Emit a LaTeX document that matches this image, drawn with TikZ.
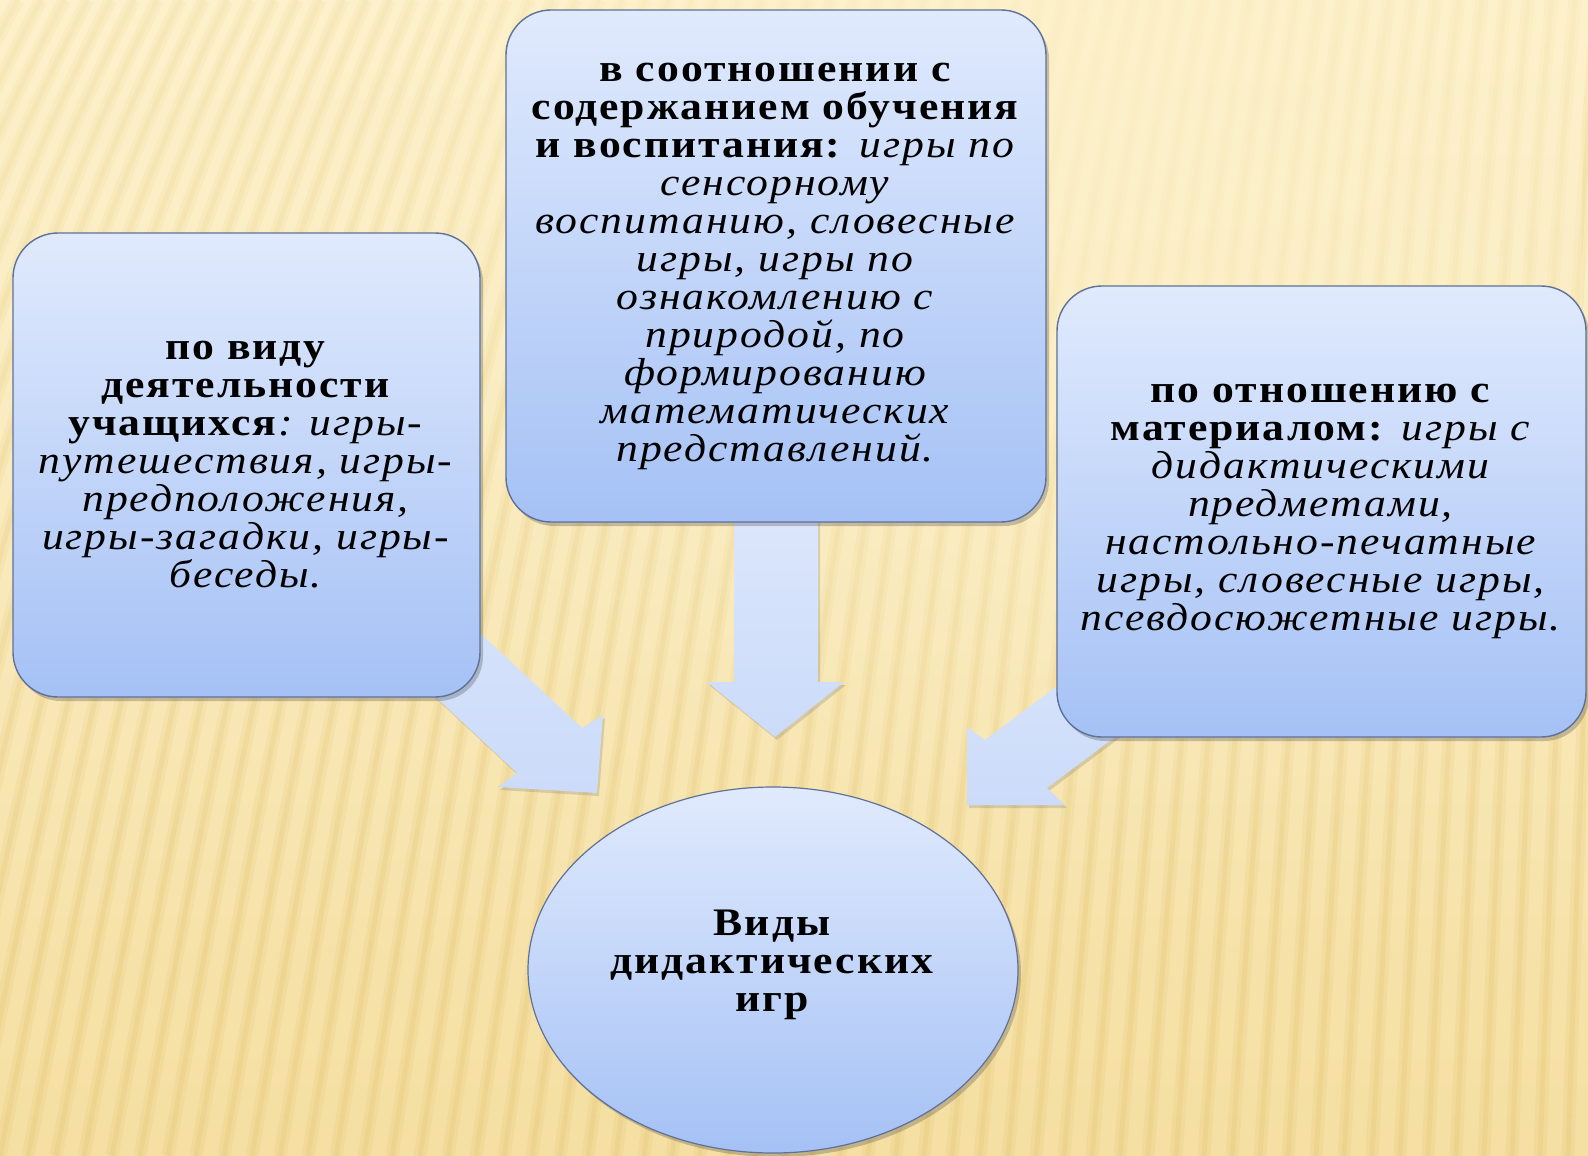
\documentclass[tikz,border=0pt]{standalone}
\usepackage{fontspec}
\setmainfont{Liberation Serif}[FakeStretch=1.12,LetterSpace=5]
\usetikzlibrary{shapes.geometric,shadows,fadings}
\definecolor{bgtop}{HTML}{FDF1CB}
\definecolor{bgbot}{HTML}{F5DFA2}
\definecolor{stripec}{HTML}{E6C977}
\definecolor{boxtop}{HTML}{E0EAFD}
\definecolor{boxbot}{HTML}{A5C1F5}
\definecolor{boxline}{HTML}{5F7199}
\definecolor{arrtop}{HTML}{DDE7FC}
\definecolor{arrbot}{HTML}{CBDBF9}
\tikzfading[name=fadecirc, inner color=transparent!10, outer color=transparent!100]
\tikzfading[name=fadev, top color=transparent!45, bottom color=transparent!100]
\newcommand\boxfont{\fontsize{39pt}{38pt}\selectfont}
\begin{document}
\begin{tikzpicture}[x=1pt,y=-1pt,
  stripewide/.style={draw=stripec, line width=13pt, opacity=0.22},
  stripecore/.style={draw=stripec, line width=5pt, opacity=0.3},
  box/.style={rectangle, rounded corners=45pt, draw=boxline, line width=1.4pt,
    top color=boxtop, bottom color=boxbot, align=center, inner sep=0pt,
    font=\boxfont, text=black,
    drop shadow={shadow xshift=3pt, shadow yshift=-4pt, opacity=0.3, fill=black!70}},
  oval/.style={ellipse, draw=boxline, line width=1.2pt,
    top color=boxtop, bottom color=boxbot, align=center, inner sep=0pt,
    font=\boxfont, text=black,
    drop shadow={shadow xshift=3pt, shadow yshift=-4pt, opacity=0.3, fill=black!70}},
  blockarrow/.style={top color=arrtop, bottom color=arrbot, draw=none,
    drop shadow={shadow xshift=2pt, shadow yshift=-3pt, opacity=0.22, fill=black!60}}
]
\useasboundingbox (0,0) rectangle (1588,1156);
% background
\fill[top color=bgtop, bottom color=bgbot] (0,0) rectangle (1588,1156);
\begin{scope}
\clip (0,0) rectangle (1588,1156);
\foreach \b in {-560,-532,...,1720} {
  \pgfmathsetmacro{\L}{320-0.17*\b}
  \draw[stripewide] (\b,1156) .. controls ({\b+0.25*\L},750) and ({\b+0.5*\L},350) .. ({\b+\L},0);
  \draw[stripecore] (\b,1156) .. controls ({\b+0.25*\L},750) and ({\b+0.5*\L},350) .. ({\b+\L},0);
}
\fill[bgtop, path fading=fadev] (0,0) rectangle (1588,950);
\fill[bgtop, path fading=fadecirc, fill opacity=0.9] (1100,40) circle (820pt);
\end{scope}

% block arrows (behind the boxes)
\path[blockarrow] (734,500) -- (818,500) -- (818,682) -- (844,682) -- (775,737)
  -- (707,682) -- (734,682) -- cycle;
\path[blockarrow] (332,495) -- (582,728) -- (603,715) -- (597,793) -- (498,787)
  -- (517,773) -- (267,540) -- cycle;
\path[blockarrow] (1185,590) -- (985,740) -- (967,727) -- (967,805) -- (1065,805)
  -- (1047,788) -- (1247,638) -- cycle;

% boxes
\node[box, minimum width=467pt, minimum height=464pt] (left) at (246.5,465)
 {\textbf{по виду}\\
  \textbf{деятельности}\\
  \textbf{учащихся}\textit{: игры-}\\
  \textit{путешествия, игры-}\\
  \textit{предположения,}\\
  \textit{игры-загадки, игры-}\\
  \textit{беседы.}};
\node[box, minimum width=540pt, minimum height=512pt] (center) at (776,266)
 {\textbf{в соотношении с}\\
  \textbf{содержанием обучения}\\
  \textbf{и воспитания:} \textit{игры по}\\
  \textit{сенсорному}\\
  \textit{воспитанию, словесные}\\
  \textit{игры, игры по}\\
  \textit{ознакомлению с}\\
  \textit{природой, по}\\
  \textit{формированию}\\
  \textit{математических}\\
  \textit{представлений.}};
\node[box, minimum width=529pt, minimum height=451pt] (right) at (1321.5,511.5)
 {\textbf{по отношению с}\\
  \textbf{материалом:} \textit{игры с}\\
  \textit{дидактическими}\\
  \textit{предметами,}\\
  \textit{настольно-печатные}\\
  \textit{игры, словесные игры,}\\
  \textit{псевдосюжетные игры.}};
\node[oval, minimum width=490pt, minimum height=366pt] (main) at (773,970)
 {\textbf{Виды}\\ \textbf{дидактических}\\ \textbf{игр}\\[-20pt]};
\end{tikzpicture}
\end{document}
